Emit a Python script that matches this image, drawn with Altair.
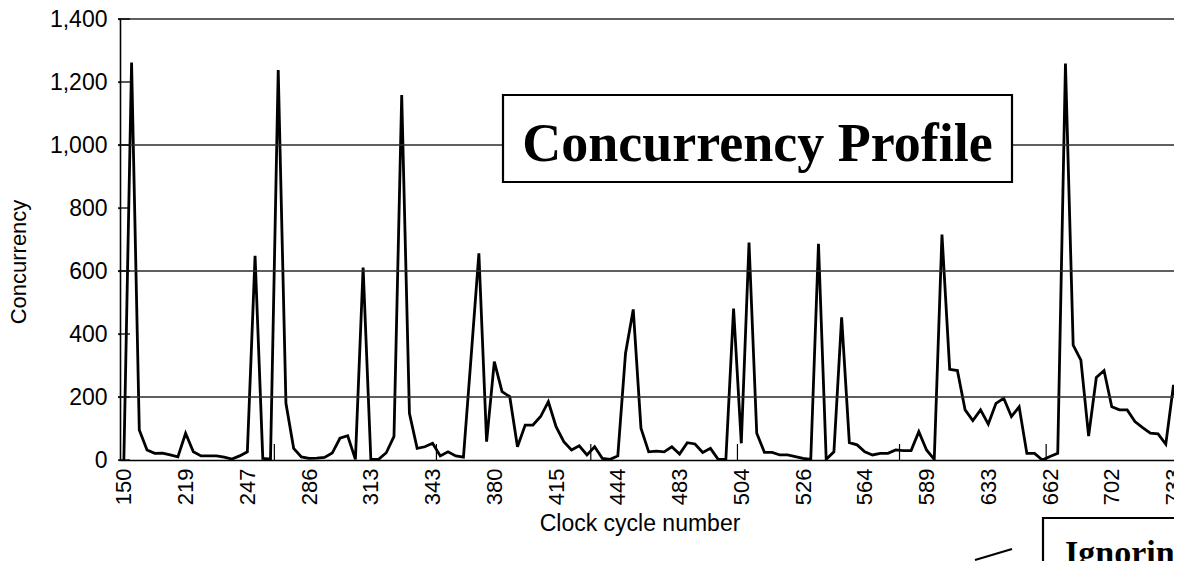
import altair as alt
import pandas as pd

# ---- data ----
concurrency = [
    0, 1262, 95, 32, 21, 22, 16, 10, 85, 26,
    13, 13, 13, 9, 3, 13, 26, 648, 5, 3,
    1238, 180, 37, 10, 5, 6, 8, 22, 69, 77,
    2, 611, 3, 2, 23, 75, 1159, 148, 37, 42,
    53, 13, 26, 13, 9, 330, 656, 58, 312, 217,
    201, 42, 111, 111, 138, 185, 106, 58, 32, 45,
    16, 42, 5, 2, 13, 339, 478, 101, 26, 28,
    26, 42, 19, 55, 51, 24, 37, 2, 2, 481,
    53, 690, 85, 24, 24, 16, 16, 11, 5, 2,
    686, 2, 26, 453, 55, 48, 26, 16, 21, 21,
    32, 30, 30, 90, 32, 2, 716, 288, 284, 159,
    125, 159, 114, 180, 196, 138, 169, 21, 21, 0,
    11, 21, 1259, 365, 317, 76, 262, 284, 169, 159,
    159, 122, 103, 85, 83, 50, 238, 95,
]
x_labels = ["150", "219", "247", "286", "313", "343", "380", "415", "444",
            "483", "504", "526", "564", "589", "633", "662", "702", "733"]
label_step = 8
y_tick_values = [0, 200, 400, 600, 800, 1000, 1200, 1400]
grid_values = [200, 600, 1000, 1400]
minor_tick_positions = [19.5, 40.5, 60.5, 79.5, 100.5, 119.5]
chart_title = ["Concurrency Profile"]
note_text = ["Ignoring"]

W, H = 1054, 441
STEP = 7.718
SANS = "Liberation Sans"
SERIF = "Liberation Serif"

df = pd.DataFrame({"idx": list(range(len(concurrency))), "value": concurrency})

xscale = alt.Scale(domain=[-0.5, -0.5 + W / STEP], nice=False, zero=False)
yscale = alt.Scale(domain=[0, 1400], nice=False, zero=True)

label_js = "[" + ",".join("'" + s + "'" for s in x_labels) + "]"

x_axis = alt.Axis(
    values=[i * label_step for i in range(len(x_labels))],
    labelExpr=label_js + "[round(datum.value / " + str(label_step) + ")]",
    labelAngle=270, labelFontSize=22, labelFont=SANS, labelColor="black",
    labelPadding=8, ticks=False, grid=False, title=None,
    domainColor="black", domainWidth=1.6, labelOverlap=False, labelFlush=False,
)
y_axis = alt.Axis(
    values=y_tick_values, labelExpr="format(datum.value, ',')",
    labelFontSize=23, labelFont=SANS,
    labelColor="black", labelPadding=11, tickSize=2, tickColor="black",
    tickWidth=1.3, grid=False, title=None, domainColor="black",
    domainWidth=1.6, labelFlush=False,
)

line = alt.Chart(df).mark_line(color="black", strokeWidth=2.8, clip=True).encode(
    x=alt.X("idx:Q", scale=xscale, axis=x_axis),
    y=alt.Y("value:Q", scale=yscale, axis=y_axis),
)

grid = alt.Chart(pd.DataFrame({"value": grid_values})).mark_rule(
    color="#2a2a2a", strokeWidth=1.3
).encode(
    y=alt.Y("value:Q", scale=yscale, axis=y_axis),
    x=alt.value(-2), x2=alt.value(W),
)

inner_ticks = alt.Chart(pd.DataFrame({"value": y_tick_values})).mark_rule(
    color="black", strokeWidth=1.3
).encode(
    y=alt.Y("value:Q", scale=yscale, axis=y_axis),
    x=alt.value(-2), x2=alt.value(10),
)

minor_ticks = alt.Chart(pd.DataFrame({"idx": minor_tick_positions})).mark_rule(
    color="black", strokeWidth=1.2
).encode(
    x=alt.X("idx:Q", scale=xscale, axis=x_axis),
    y=alt.value(H - 16), y2=alt.value(H),
)

title_box = alt.Chart(pd.DataFrame({"t": chart_title})).mark_rect(
    fill="white", stroke="black", strokeWidth=2.2
).encode(
    x=alt.value(383), x2=alt.value(892), y=alt.value(76), y2=alt.value(163),
)
title_text = alt.Chart(pd.DataFrame({"t": chart_title})).mark_text(
    font=SERIF, fontWeight="bold", fontSize=54, align="center",
    baseline="alphabetic", color="black",
).encode(x=alt.value(637.5), y=alt.value(142), text="t:N")

note_box = alt.Chart(pd.DataFrame({"t": note_text})).mark_rect(
    fill="white", stroke="black", strokeWidth=2.2
).encode(
    x=alt.value(923), x2=alt.value(1140), y=alt.value(499), y2=alt.value(580),
)
note_label = alt.Chart(pd.DataFrame({"t": note_text})).mark_text(
    font=SERIF, fontWeight="bold", fontSize=34, align="left",
    baseline="alphabetic", color="black",
).encode(x=alt.value(945), y=alt.value(545), text="t:N")

note_line = alt.Chart(pd.DataFrame({"t": note_text})).mark_rule(
    color="black", strokeWidth=2
).encode(x=alt.value(855), x2=alt.value(892), y=alt.value(541), y2=alt.value(530))

y_title = alt.Chart(pd.DataFrame({"t": ["Concurrency"]})).mark_text(
    font=SANS, fontSize=22, angle=270, align="center", baseline="middle",
    color="black",
).encode(x=alt.value(-101), y=alt.value(243), text="t:N")

x_title = alt.Chart(pd.DataFrame({"t": ["Clock cycle number"]})).mark_text(
    font=SANS, fontSize=23, align="center", baseline="middle", color="black",
).encode(x=alt.value(520), y=alt.value(505), text="t:N")

chart = alt.layer(
    line, grid, inner_ticks, minor_ticks, title_box, title_text,
    note_line, note_box, note_label, y_title, x_title,
).properties(
    width=W, height=H,
    autosize=alt.AutoSizeParams(type="none"),
    padding={"left": 112, "top": 11, "right": 0, "bottom": 101},
    background="white",
).configure_view(strokeWidth=0)

chart.save("out.html", embed_options={"renderer": "svg", "actions": False})
